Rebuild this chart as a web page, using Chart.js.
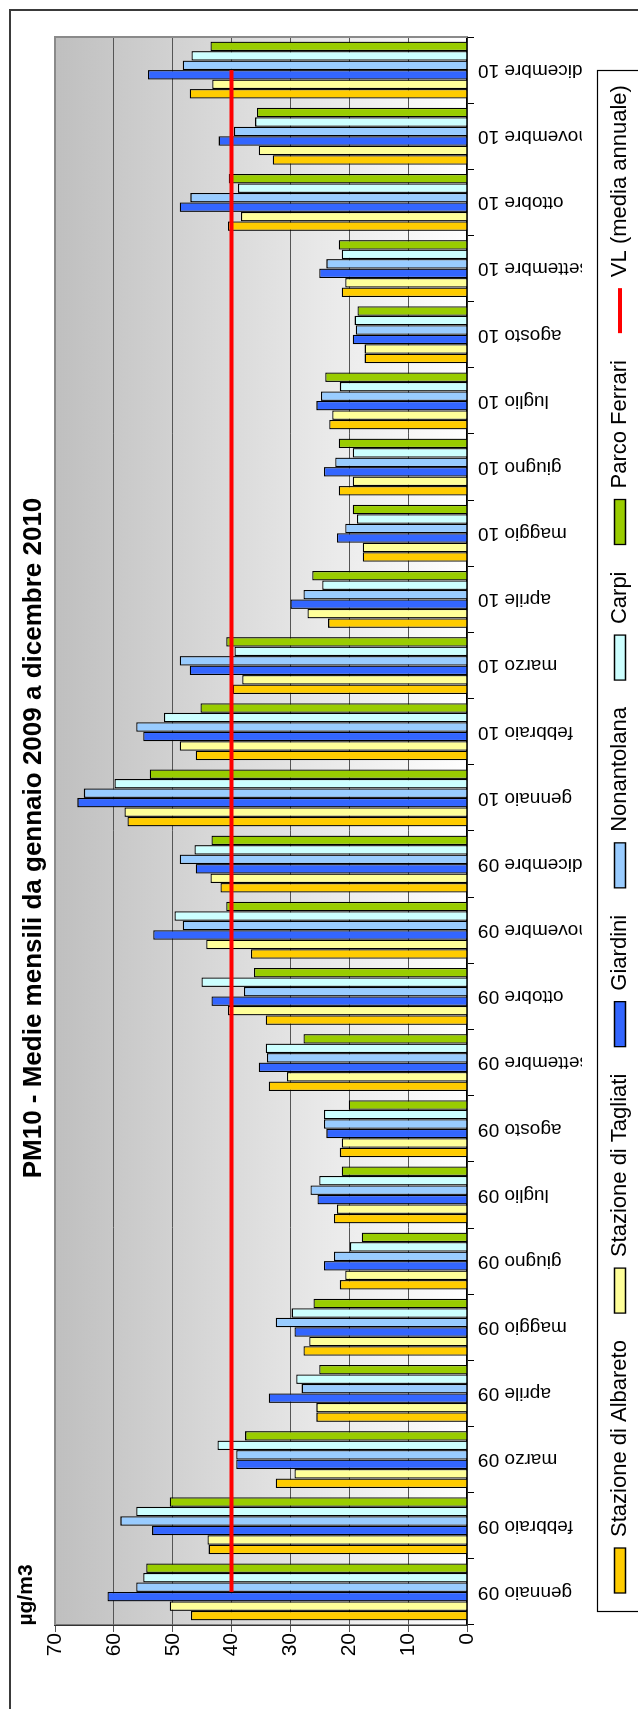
<!DOCTYPE html>
<html>
<head>
<meta charset="utf-8">
<script src="https://cdn.jsdelivr.net/npm/chart.js@4.4.1/dist/chart.umd.min.js"></script>
<style>
html,body{margin:0;padding:0;background:#fff;overflow:hidden;width:638px;height:1709px;}
#wrap{position:absolute;left:0;top:0;width:1709px;height:641px;transform-origin:0 0;transform:translate(0px,1709px) rotate(-90deg);}
canvas{display:block;}
</style>
</head>
<body>
<div id="wrap"><canvas id="c" width="1709" height="641" style="width:1709px;height:641px"></canvas></div>
<script>
const categories = ['gennaio 09','febbraio 09','marzo 09','aprile 09','maggio 09','giugno 09','luglio 09','agosto 09','settembre 09','ottobre 09','novembre 09','dicembre 09','gennaio 10','febbraio 10','marzo 10','aprile 10','maggio 10','giugno 10','luglio 10','agosto 10','settembre 10','ottobre 10','novembre 10','dicembre 10'];
const albareto   = [46.9,43.9,32.5,25.6,27.8,21.6,22.6,21.6,33.7,34.2,36.7,41.9,57.7,46.1,39.8,23.6,17.7,21.8,23.4,17.4,21.3,40.6,33.0,47.1];
const tagliati   = [50.5,44.1,29.3,25.6,26.8,20.7,22.1,21.3,30.6,40.6,44.3,43.6,58.2,48.8,38.2,27.1,17.7,19.4,22.9,17.4,20.7,38.4,35.4,43.3];
const giardini   = [61.1,53.5,39.2,33.7,29.3,24.3,25.4,23.9,35.4,43.4,53.3,46.1,66.2,55.0,47.1,30.0,22.1,24.3,25.6,19.4,25.1,48.8,42.2,54.2];
const nonantolana= [56.2,58.9,39.2,28.1,32.5,22.6,26.6,24.3,34.0,37.9,48.3,48.8,65.1,56.2,48.8,27.8,20.7,22.4,24.8,18.9,23.9,47.0,39.6,48.3];
const carpi      = [55.0,56.2,42.4,29.0,29.8,19.9,25.1,24.3,34.2,45.1,49.7,46.3,59.9,51.5,39.5,24.6,18.7,19.4,21.6,19.1,21.3,38.9,36.0,46.8];
const parcoFerrari=[54.5,50.5,37.7,25.1,26.1,17.9,21.3,20.1,27.8,36.2,40.9,43.4,53.9,45.3,40.9,26.3,19.4,21.8,24.1,18.6,21.8,40.5,35.7,43.6];
const vlValue = 40;
const vl = categories.map(() => vlValue);
const yTicks = [0,10,20,30,40,50,60,70];
const unitLabel = 'µg/m3';

const FONT = "'Liberation Sans', Arial, sans-serif";
const LEG_PAD = 27;
const LEG_START = 116;

function barDs(label, data, color){
  return {type:'bar', label, data, backgroundColor:color, borderColor:'#000', borderWidth:1.3, order:1,
          categoryPercentage:0.86, barPercentage:1.0};
}

const framePlugin = {
  id:'frame',
  afterLayout(chart){
    if (chart.titleBlock) { chart.titleBlock.left += 70; }
    const lg = chart.legend;
    if (lg && lg.lineWidths) {
      lg.right = 4000;
      lg.left = 2*LEG_START - LEG_PAD - lg.right + lg.lineWidths[0];
    }
  },
  beforeDraw(chart){
    const {ctx, chartArea:a} = chart;
    ctx.save();
    const g = ctx.createLinearGradient(0, a.top, 0, a.bottom);
    g.addColorStop(0, '#bfbfbf');
    g.addColorStop(1, '#ffffff');
    ctx.fillStyle = g;
    ctx.fillRect(a.left, a.top, a.right - a.left, a.bottom - a.top);
    ctx.restore();
  },
  afterDraw(chart){
    const {ctx, chartArea:a} = chart;
    ctx.save();
    ctx.strokeStyle = '#8a8a8a'; ctx.lineWidth = 2;
    ctx.beginPath();
    ctx.moveTo(a.left, a.top); ctx.lineTo(a.right, a.top); ctx.lineTo(a.right, a.bottom);
    ctx.stroke();
    ctx.strokeStyle = '#3a3a3a'; ctx.lineWidth = 2;
    ctx.strokeRect(-10, 10, 1709, 700);
    ctx.strokeStyle = '#000'; ctx.lineWidth = 1.2;
    ctx.strokeRect(97.5, 597.5, 1541, 80);
    // unit label of the value axis
    ctx.fillStyle = '#000';
    ctx.font = "bold 21px " + FONT;
    ctx.textAlign = 'center';
    ctx.textBaseline = 'middle';
    ctx.fillText(unitLabel, 114, 26);
    ctx.restore();
  }
};

new Chart(document.getElementById('c'), {
  data:{
    labels: categories,
    datasets:[
      barDs('Stazione di Albareto', albareto, '#FFCC00'),
      barDs('Stazione di Tagliati', tagliati, '#FFFF99'),
      barDs('Giardini', giardini, '#3366FF'),
      barDs('Nonantolana', nonantolana, '#99CCFF'),
      barDs('Carpi', carpi, '#CCFFFF'),
      barDs('Parco Ferrari', parcoFerrari, '#99CC00'),
      {type:'line', label:'VL (media annuale)', data:vl, borderColor:'#FF0000', backgroundColor:'#FF0000', borderWidth:4, pointRadius:0, fill:false, order:0, tension:0}
    ]
  },
  options:{
    responsive:false, animation:false, devicePixelRatio:1,
    layout:{padding:{left:0, right:37, top:0, bottom:0}},
    scales:{
      x:{
        type:'category',
        grid:{display:true, drawOnChartArea:false, drawTicks:true, tickLength:7, color:'#000', offset:true},
        border:{display:true, color:'#000', width:1.5},
        ticks:{maxRotation:90, minRotation:90, autoSkip:false, padding:4, color:'#000', font:{family:FONT, size:19}},
        afterFit(s){ s.height = 115; }
      },
      y:{
        min:0, max:70,
        afterBuildTicks(s){ s.ticks = yTicks.map(v => ({value:v})); },
        grid:{color:'#555', lineWidth:1, tickLength:7, drawTicks:true},
        border:{display:true, color:'#333', width:1.5},
        ticks:{padding:1, color:'#000', font:{family:FONT, size:21}},
        afterFit(s){ s.width = 84; }
      }
    },
    plugins:{
      title:{display:true, text:'PM10 - Medie mensili da gennaio 2009 a dicembre 2010', color:'#000',
             font:{family:FONT, size:26, weight:'bold'}, padding:{top:18.4, bottom:5.4}},
      legend:{display:true, position:'bottom',
        labels:{usePointStyle:true, pointStyleWidth:45, boxHeight:11, padding:LEG_PAD, color:'#000',
          font:{family:FONT, size:22},
          sort:(a,b) => a.datasetIndex - b.datasetIndex,
          generateLabels(chart){
            const items = Chart.defaults.plugins.legend.labels.generateLabels(chart);
            items.forEach(it => {
              const ds = chart.data.datasets[it.datasetIndex];
              if (ds.type === 'line') { it.pointStyle = 'line'; it.lineWidth = 4; it.strokeStyle = '#FF0000'; }
              else { it.pointStyle = 'rect'; it.lineWidth = 1.3; it.strokeStyle = '#000'; }
            });
            return items;
          }
        }
      },
      tooltip:{enabled:false}
    }
  },
  plugins:[framePlugin]
});
</script>
</body>
</html>
